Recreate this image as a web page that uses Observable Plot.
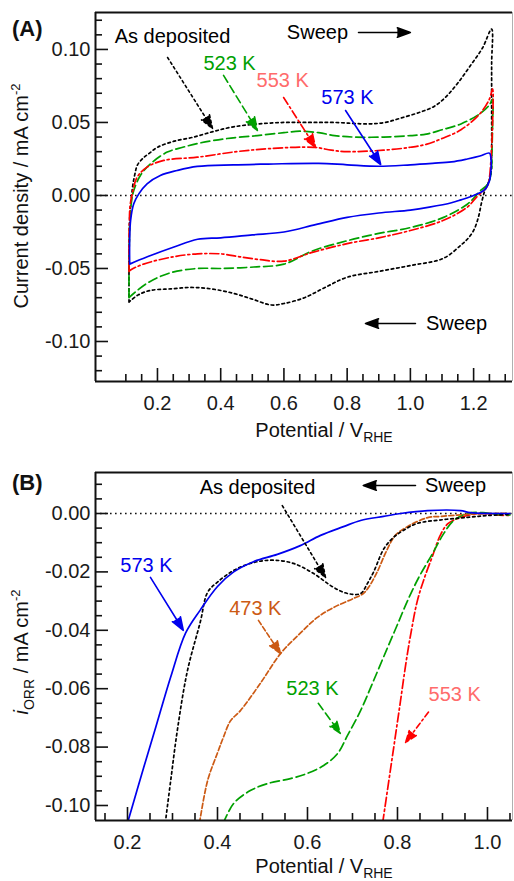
<!DOCTYPE html>
<html><head><meta charset="utf-8">
<script src="https://cdn.jsdelivr.net/npm/d3@7"></script>
<script src="https://cdn.jsdelivr.net/npm/@observablehq/plot@0.6"></script>
<style>
body{margin:0;background:#fff;}
#wrap{position:relative;width:514px;height:881px;}
#wrap svg{display:block;}
</style></head><body><div id="wrap"></div>
<script>
// ---------- Panel A: cyclic voltammograms (potential V_RHE, current density mA cm-2) ----------
const cvAsDeposited = [[0.110,-0.073],[0.110,-0.050],[0.111,-0.030],[0.113,-0.012],[0.118,-0.001],[0.122,0.007],[0.128,0.014],[0.137,0.021],[0.157,0.026],[0.175,0.029],[0.200,0.033],[0.250,0.037],[0.315,0.040],[0.380,0.044],[0.440,0.047],[0.520,0.049],[0.600,0.050],[0.680,0.050],[0.760,0.050],[0.865,0.049],[0.920,0.050],[0.970,0.053],[1.030,0.057],[1.075,0.061],[1.110,0.067],[1.150,0.077],[1.190,0.089],[1.228,0.101],[1.257,0.114],[1.257,0.090],[1.257,0.060],[1.257,0.030],[1.255,0.015],[1.245,0.008],[1.235,0.003],[1.225,-0.005],[1.215,-0.015],[1.200,-0.024],[1.180,-0.030],[1.160,-0.034],[1.105,-0.043],[1.000,-0.048],[0.900,-0.052],[0.800,-0.056],[0.730,-0.063],[0.665,-0.070],[0.600,-0.074],[0.560,-0.075],[0.500,-0.071],[0.440,-0.067],[0.370,-0.064],[0.305,-0.063],[0.240,-0.064],[0.178,-0.065],[0.140,-0.068],[0.115,-0.072],[0.110,-0.073]];
const cv523K = [[0.110,-0.070],[0.110,-0.050],[0.111,-0.030],[0.113,-0.015],[0.118,-0.004],[0.125,0.0034],[0.146,0.0137],[0.178,0.0217],[0.231,0.0297],[0.280,0.033],[0.336,0.036],[0.420,0.039],[0.516,0.041],[0.600,0.043],[0.650,0.044],[0.710,0.043],[0.760,0.041],[0.820,0.040],[0.915,0.040],[1.000,0.041],[1.050,0.042],[1.100,0.045],[1.160,0.049],[1.220,0.056],[1.250,0.062],[1.260,0.066],[1.260,0.050],[1.258,0.030],[1.255,0.015],[1.245,0.008],[1.220,0.003],[1.200,-0.002],[1.180,-0.006],[1.105,-0.015],[1.000,-0.022],[0.900,-0.026],[0.800,-0.031],[0.690,-0.038],[0.600,-0.047],[0.505,-0.049],[0.400,-0.050],[0.327,-0.050],[0.240,-0.053],[0.168,-0.060],[0.120,-0.068],[0.110,-0.070]];
const cv553K = [[0.110,-0.052],[0.110,-0.035],[0.111,-0.020],[0.113,-0.008],[0.120,0.0011],[0.136,0.0126],[0.167,0.0194],[0.220,0.024],[0.326,0.0262],[0.450,0.030],[0.550,0.032],[0.695,0.033],[0.750,0.031],[0.800,0.030],[0.915,0.031],[1.000,0.033],[1.050,0.035],[1.100,0.039],[1.160,0.045],[1.220,0.056],[1.250,0.066],[1.260,0.073],[1.260,0.050],[1.255,0.025],[1.250,0.012],[1.245,0.007],[1.230,0.003],[1.210,-0.001],[1.180,-0.008],[1.105,-0.017],[1.000,-0.024],[0.900,-0.029],[0.800,-0.033],[0.690,-0.039],[0.600,-0.045],[0.526,-0.044],[0.460,-0.042],[0.400,-0.040],[0.327,-0.040],[0.250,-0.042],[0.156,-0.047],[0.115,-0.051],[0.110,-0.052]];
const cv573K = [[0.112,-0.047],[0.112,-0.030],[0.115,-0.017],[0.125,-0.0057],[0.141,0.0011],[0.167,0.008],[0.209,0.0137],[0.262,0.0171],[0.326,0.0199],[0.440,0.021],[0.550,0.0215],[0.710,0.022],[0.800,0.021],[0.900,0.020],[1.000,0.021],[1.070,0.022],[1.130,0.023],[1.180,0.025],[1.220,0.027],[1.250,0.029],[1.255,0.025],[1.255,0.018],[1.250,0.010],[1.235,0.004],[1.200,0.000],[1.160,-0.003],[1.130,-0.005],[1.060,-0.008],[1.000,-0.010],[0.900,-0.012],[0.800,-0.015],[0.700,-0.020],[0.600,-0.025],[0.500,-0.027],[0.400,-0.029],[0.327,-0.030],[0.250,-0.0355],[0.168,-0.042],[0.112,-0.047]];

const xDomainA = [0.004, 1.323];
const yDomainA = [-0.1274, 0.1253];
const xMajorA = [0.2, 0.4, 0.6, 0.8, 1.0, 1.2];
const xMinorA = [0.1, 0.15, 0.25, 0.3, 0.35, 0.45, 0.5, 0.55, 0.65, 0.7, 0.75, 0.85, 0.9, 0.95, 1.05, 1.1, 1.15, 1.25, 1.3];
const yMajorA = [-0.10, -0.05, 0.00, 0.05, 0.10];
const yMinorA = [-0.12, -0.11, -0.09, -0.08, -0.07, -0.06, -0.04, -0.03, -0.02, -0.01, 0.01, 0.02, 0.03, 0.04, 0.06, 0.07, 0.08, 0.09, 0.11, 0.12];

const labelsA = [
  {text: "As deposited", x: 0.2475, y: 0.1090, color: "#000"},
  {text: "523 K", x: 0.428, y: 0.0904, color: "#00a000"},
  {text: "553 K", x: 0.596, y: 0.0788, color: "#ff6b6b"},
  {text: "573 K", x: 0.801, y: 0.0671, color: "#0000ee"},
  {text: "Sweep", x: 0.706, y: 0.1116, color: "#000"},
  {text: "Sweep", x: 1.146, y: -0.0877, color: "#000"}
];
const arrowsA = [
  {x1: 0.232, y1: 0.0945, x2: 0.374, y2: 0.0459, color: "#000", dash: "2.5,3"},
  {x1: 0.409, y1: 0.0822, x2: 0.516, y2: 0.0445, color: "#00a000", dash: "8,4"},
  {x1: 0.599, y1: 0.0671, x2: 0.700, y2: 0.0329, color: "#ff0000", dash: "8,3,2,3"},
  {x1: 0.795, y1: 0.0582, x2: 0.906, y2: 0.0212, color: "#0000ee", dash: null},
  {x1: 0.836, y1: 0.1116, x2: 1.000, y2: 0.1116, color: "#000", dash: null},
  {x1: 1.016, y1: -0.0877, x2: 0.858, y2: -0.0877, color: "#000", dash: null}
];

// ---------- Panel B: ORR polarization curves ----------
const orrAsDeposited = [[0.284,-0.106],[0.296,-0.0915],[0.311,-0.074],[0.333,-0.054],[0.362,-0.037],[0.378,-0.027],[0.400,-0.0235],[0.436,-0.0195],[0.480,-0.0168],[0.524,-0.0160],[0.569,-0.0171],[0.613,-0.0205],[0.658,-0.0253],[0.689,-0.0274],[0.718,-0.0274],[0.733,-0.0240],[0.747,-0.0200],[0.770,-0.0120],[0.791,-0.0082],[0.813,-0.0058],[0.844,-0.0034],[0.902,-0.0021],[0.956,-0.0013],[1.000,-0.0007],[1.050,-0.0003]];
const orr473K = [[0.360,-0.106],[0.378,-0.0915],[0.400,-0.082],[0.413,-0.0767],[0.429,-0.071],[0.451,-0.0675],[0.496,-0.058],[0.540,-0.048],[0.584,-0.041],[0.622,-0.0356],[0.658,-0.0322],[0.702,-0.0291],[0.724,-0.0274],[0.737,-0.0250],[0.755,-0.0200],[0.775,-0.0130],[0.795,-0.0075],[0.822,-0.0045],[0.867,-0.0014],[0.896,-0.0010],[0.956,-0.0003],[1.013,0.0000],[1.050,0.0000]];
const orr523K = [[0.413,-0.106],[0.436,-0.0993],[0.473,-0.0949],[0.511,-0.0925],[0.562,-0.0908],[0.600,-0.0890],[0.636,-0.0863],[0.667,-0.0822],[0.689,-0.0760],[0.718,-0.0675],[0.747,-0.0572],[0.778,-0.0459],[0.800,-0.0380],[0.822,-0.0300],[0.847,-0.0220],[0.878,-0.0137],[0.903,-0.0068],[0.925,-0.0024],[0.955,0.0000],[0.990,0.0003],[1.020,-0.0003],[1.050,-0.0005]];
const orr553K = [[0.767,-0.106],[0.787,-0.085],[0.805,-0.066],[0.820,-0.050],[0.831,-0.040],[0.844,-0.030],[0.860,-0.022],[0.878,-0.0145],[0.895,-0.0075],[0.912,-0.0035],[0.940,-0.0014],[0.984,0.0000],[1.020,-0.0005],[1.050,-0.0007]];
const orr573K = [[0.200,-0.106],[0.236,-0.087],[0.267,-0.071],[0.296,-0.056],[0.329,-0.041],[0.362,-0.033],[0.400,-0.025],[0.436,-0.020],[0.480,-0.0165],[0.533,-0.014],[0.584,-0.011],[0.629,-0.0075],[0.680,-0.0045],[0.718,-0.0024],[0.769,-0.0010],[0.807,0.0000],[0.867,0.0010],[0.940,0.0010],[0.962,0.0003],[1.050,0.0000]];

const xDomainB = [0.1289, 1.0556];
const yDomainB = [-0.10514, 0.01404];
const xMajorB = [0.2, 0.4, 0.6, 0.8, 1.0];
const xMinorB = [0.15, 0.25, 0.3, 0.35, 0.45, 0.5, 0.55, 0.65, 0.7, 0.75, 0.85, 0.9, 0.95, 1.05];
const yMajorB = [-0.10, -0.08, -0.06, -0.04, -0.02, 0.00];
const yMinorB = [-0.095, -0.09, -0.085, -0.075, -0.07, -0.065, -0.055, -0.05, -0.045, -0.035, -0.03, -0.025, -0.015, -0.01, -0.005, 0.005, 0.01];

const labelsB = [
  {text: "As deposited", x: 0.489, y: 0.0089, color: "#000"},
  {text: "Sweep", x: 0.929, y: 0.0096, color: "#000"},
  {text: "573 K", x: 0.242, y: -0.0178, color: "#0000ee"},
  {text: "473 K", x: 0.484, y: -0.0325, color: "#cc5a14"},
  {text: "523 K", x: 0.611, y: -0.0600, color: "#00a000"},
  {text: "553 K", x: 0.927, y: -0.0620, color: "#ff6b6b"}
];
const arrowsB = [
  {x1: 0.544, y1: 0.0027, x2: 0.640, y2: -0.0219, color: "#000", dash: "2.5,3"},
  {x1: 0.840, y1: 0.0096, x2: 0.724, y2: 0.0096, color: "#000", dash: null},
  {x1: 0.251, y1: -0.0219, x2: 0.324, y2: -0.0400, color: "#0000ee", dash: null},
  {x1: 0.491, y1: -0.0366, x2: 0.540, y2: -0.0480, color: "#cc5a14", dash: "5,2.5"},
  {x1: 0.624, y1: -0.0650, x2: 0.673, y2: -0.0753, color: "#00a000", dash: "8,4"},
  {x1: 0.869, y1: -0.0680, x2: 0.818, y2: -0.0784, color: "#ff0000", dash: "6,3,2,3"}
];

const FONT = "'Liberation Sans', Arial, Helvetica, sans-serif";
const FS = 20;

function frameMarks(xd, yd) {
  return [
    Plot.ruleX([xd[1]], {stroke: "#b0b0b0", strokeWidth: 1}),
    Plot.ruleY([yd[1]], {stroke: "#111", strokeWidth: 2}),
    Plot.ruleX([xd[0]], {stroke: "#111", strokeWidth: 2}),
    Plot.ruleY([yd[0]], {stroke: "#111", strokeWidth: 2})
  ];
}
function axisMarks(xMaj, xMin, yMaj, yMin, yFmt) {
  return [
    Plot.axisX(xMin, {anchor: "bottom", tickSize: -7, strokeWidth: 1.6, tickFormat: () => "", label: null}),
    Plot.axisX(xMaj, {anchor: "bottom", tickSize: -13, strokeWidth: 1.6, tickFormat: () => "", label: null}),
    Plot.axisX(xMaj, {anchor: "bottom", tickSize: 0, tickPadding: 14, tickFormat: d => d.toFixed(1), label: null, fontSize: FS, fill: "#1a1a1a"}),
    Plot.axisY(yMin, {anchor: "left", tickSize: -7, strokeWidth: 1.6, tickFormat: () => "", label: null}),
    Plot.axisY(yMaj, {anchor: "left", tickSize: -13, strokeWidth: 1.6, tickFormat: () => "", label: null}),
    Plot.axisY(yMaj, {anchor: "left", tickSize: 0, tickPadding: 5, tickFormat: yFmt, label: null, fontSize: FS, fill: "#1a1a1a"})
  ];
}
function annotationMarks(labels, arrows) {
  const m = [];
  for (const a of arrows) {
    m.push(Plot.arrow([a], {x1: "x1", y1: "y1", x2: "x2", y2: "y2", stroke: a.color, fill: a.color, strokeWidth: 1.6,
      strokeDasharray: a.dash || undefined, headLength: 13, headAngle: 40}));
  }
  for (const l of labels) {
    m.push(Plot.text([l], {x: "x", y: "y", text: "text", fill: l.color, fontSize: FS, textAnchor: "middle"}));
  }
  return m;
}
const P = d => d[0], Q = d => d[1];

const plotA = Plot.plot({
  width: 514, height: 450,
  marginLeft: 95, marginRight: 2, marginTop: 12, marginBottom: 69,
  style: {fontFamily: FONT, fontSize: FS + "px", background: "#fff", color: "#111"},
  x: {domain: xDomainA, axis: null},
  y: {domain: yDomainA, axis: null},
  marks: [
    Plot.ruleY([0], {strokeDasharray: "1.6,3.4", strokeWidth: 1.6, stroke: "#111"}),
    Plot.line(cvAsDeposited, {x: P, y: Q, stroke: "#000", strokeWidth: 1.7, strokeDasharray: "2.5,3", curve: "catmull-rom"}),
    Plot.line(cv523K, {x: P, y: Q, stroke: "#00a000", strokeWidth: 1.7, strokeDasharray: "9,4", curve: "catmull-rom"}),
    Plot.line(cv553K, {x: P, y: Q, stroke: "#ff0000", strokeWidth: 1.7, strokeDasharray: "9,3,2,3", curve: "catmull-rom"}),
    Plot.line(cv573K, {x: P, y: Q, stroke: "#0000ee", strokeWidth: 1.7, curve: "catmull-rom"}),
    ...annotationMarks(labelsA, arrowsA),
    ...frameMarks(xDomainA, yDomainA),
    ...axisMarks(xMajorA, xMinorA, yMajorA, yMinorA, d => d.toFixed(2))
  ]
});

const plotB = Plot.plot({
  width: 514, height: 431,
  marginLeft: 95, marginRight: 2, marginTop: 22, marginBottom: 61,
  style: {fontFamily: FONT, fontSize: FS + "px", background: "#fff", color: "#111"},
  x: {domain: xDomainB, axis: null},
  y: {domain: yDomainB, axis: null},
  marks: [
    Plot.ruleY([0], {strokeDasharray: "1.6,3.4", strokeWidth: 1.6, stroke: "#111"}),
    Plot.line(orr553K, {x: P, y: Q, stroke: "#ff0000", strokeWidth: 1.7, strokeDasharray: "9,3,2,3", curve: "catmull-rom", clip: true}),
    Plot.line(orr523K, {x: P, y: Q, stroke: "#00a000", strokeWidth: 1.7, strokeDasharray: "9,4", curve: "catmull-rom", clip: true}),
    Plot.line(orr473K, {x: P, y: Q, stroke: "#cc5a14", strokeWidth: 1.7, strokeDasharray: "5,2.5", curve: "catmull-rom", clip: true}),
    Plot.line(orrAsDeposited, {x: P, y: Q, stroke: "#000", strokeWidth: 1.7, strokeDasharray: "2.5,3", curve: "catmull-rom", clip: true}),
    Plot.line(orr573K, {x: P, y: Q, stroke: "#0000ee", strokeWidth: 1.7, curve: "catmull-rom", clip: true}),
    ...annotationMarks(labelsB, arrowsB),
    ...frameMarks(xDomainB, yDomainB),
    ...axisMarks(xMajorB, xMinorB, yMajorB, yMinorB, d => d.toFixed(2))
  ]
});

const wrap = document.getElementById("wrap");
wrap.appendChild(plotA);
wrap.appendChild(plotB);

// Rich-text axis titles and panel letters (sub/superscripts)
function addText(svg, x, y, parts, opts = {}) {
  const t = d3.select(svg).append("text")
    .attr("x", x).attr("y", y)
    .attr("text-anchor", opts.anchor || "middle")
    .attr("font-family", FONT)
    .attr("font-size", opts.size || FS)
    .attr("font-weight", opts.weight || null)
    .attr("fill", "#111");
  if (opts.rotate) t.attr("transform", `rotate(-90,${x},${y})`);
  for (const p of parts) {
    const s = t.append("tspan").text(p.t);
    if (p.size) s.attr("font-size", p.size);
    if (p.dy) s.attr("dy", p.dy);
    if (p.italic) s.attr("font-style", "italic");
  }
  return t;
}
addText(plotA, 12, 36, [{t: "(A)"}], {anchor: "start", size: 22, weight: "bold"});
addText(plotA, 324, 437, [{t: "Potential / V"}, {t: "RHE", size: 14, dy: 5}]);
addText(plotA, 28, 196, [{t: "Current density / mA cm"}, {t: "-2", size: 13, dy: -8}], {rotate: true});

addText(plotB, 12, 40, [{t: "(B)"}], {anchor: "start", size: 22, weight: "bold"});
addText(plotB, 324, 423, [{t: "Potential / V"}, {t: "RHE", size: 14, dy: 5}]);
addText(plotB, 28, 202, [{t: "i", italic: true}, {t: "ORR", size: 14, dy: 6}, {t: " / mA cm", dy: -6}, {t: "-2", size: 13, dy: -8}], {rotate: true});
</script>
</body></html>
